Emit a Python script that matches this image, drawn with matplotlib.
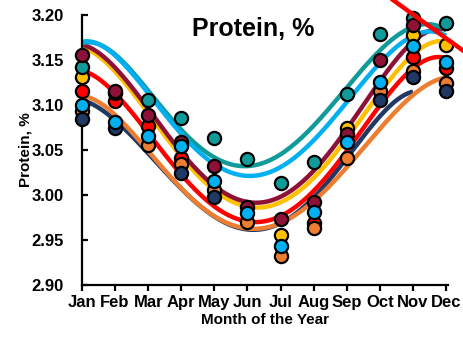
import matplotlib
matplotlib.use('Agg')
import matplotlib.pyplot as plt
from matplotlib.lines import Line2D
import numpy as np

plt.rcParams['font.family'] = ['Liberation Sans', 'DejaVu Sans']
plt.rcParams['font.weight'] = 'bold'

months = ['Jan', 'Feb', 'Mar', 'Apr', 'May', 'Jun',
          'Jul', 'Aug', 'Sep', 'Oct', 'Nov', 'Dec']
yticks = [2.90, 2.95, 3.00, 3.05, 3.10, 3.15, 3.20]
nan = np.nan

# observed monthly means (dots); nan where the dot is hidden in the source
teal_pts   = [3.142, 3.113, 3.106, 3.085, 3.063, 3.040, 3.013, 3.037, 3.112, 3.179, 3.197, 3.191]
maroon_pts = [3.156, 3.116, 3.089, 3.059, 3.032, 2.987, 2.973, 2.992, 3.068, 3.150, 3.189, nan]
gold_pts   = [3.131, nan,   nan,   nan,   nan,   nan,   2.956, nan,   3.074, nan,   3.178, 3.167]
red_pts    = [3.116, 3.104, 3.077, 3.041, nan,   nan,   nan,   2.969, nan,   nan,   3.153, 3.141]
sky_pts    = [3.100, 3.081, 3.065, 3.054, 3.016, 2.980, 2.943, 2.981, 3.059, 3.125, 3.165, 3.148]
orange_pts = [3.093, nan,   3.056, 3.034, 3.005, 2.970, 2.932, 2.963, 3.041, 3.115, 3.138, 3.124]
navy_pts   = [3.084, 3.074, nan,   3.024, 2.998, nan,   nan,   nan,   nan,   3.106, 3.131, 3.116]

# trend curves read at each month
teal_fit   = [3.170, 3.151, 3.118, 3.077, 3.041, 3.029, 3.043, 3.078, 3.122, 3.163, 3.182, 3.185]
sky_fit    = [3.172, 3.150, 3.115, 3.072, 3.035, 3.017, 3.028, 3.063, 3.107, 3.146, 3.174, 3.178]
maroon_fit = [3.168, 3.139, 3.096, 3.050, 3.013, 2.987, 2.996, 3.030, 3.076, 3.124, 3.170, 3.184]
gold_fit   = [3.165, 3.135, 3.091, 3.045, 3.006, 2.984, 2.991, 3.020, 3.065, 3.113, 3.155, 3.171]
red_fit    = [3.139, 3.111, 3.070, 3.024, 2.987, 2.969, 2.976, 3.006, 3.050, 3.098, 3.141, 3.152]
orange_fit = [3.111, 3.087, 3.050, 3.009, 2.976, 2.961, 2.969, 2.994, 3.031, 3.074, 3.110, 3.131]
navy_fit   = [3.106, 3.082, 3.047, 3.008, 2.975, 2.961, 2.969, 2.998, 3.041, 3.087, 3.115]

c_teal, c_sky, c_maroon = '#119a9a', '#00b0f0', '#8e1238'
c_gold, c_red, c_orange, c_navy = '#ffc000', '#ff0000', '#ed7d31', '#203864'

fig = plt.figure(figsize=(4.64, 3.44), dpi=100)
ax = fig.add_axes([0.1767, 0.1715, 0.789, 0.785])

x = np.arange(1, 13)

def trend(vals, col):
    xs = np.arange(1, len(vals) + 1)
    p = np.polyfit(xs, vals, 5)
    xx = np.linspace(1, len(vals), 200)
    ax.plot(xx, np.polyval(p, xx), color=col, lw=3.2, solid_capstyle='butt', zorder=2)

# lines, back to front
trend(navy_fit, c_navy)
trend(orange_fit, c_orange)
trend(red_fit, c_red)
trend(gold_fit, c_gold)
trend(maroon_fit, c_maroon)
trend(teal_fit, c_teal)
trend(sky_fit, c_sky)

for vals, col in [(gold_pts, c_gold), (red_pts, c_red), (orange_pts, c_orange),
                  (teal_pts, c_teal), (maroon_pts, c_maroon), (navy_pts, c_navy),
                  (sky_pts, c_sky)]:
    ax.plot(x, vals, 'o', color=col, mec='black', mew=1.6, ms=9.5,
            zorder=3, clip_on=False)

ax.set_xlim(1, 12.06)
ax.set_ylim(2.90, 3.20)
ax.set_xticks(x)
ax.set_xticklabels(months)
ax.set_yticks(yticks)
ax.set_yticklabels(['%.2f' % v for v in yticks])
for s in ['top', 'right']:
    ax.spines[s].set_visible(False)
for s in ['left', 'bottom']:
    ax.spines[s].set_linewidth(1.6)
ax.tick_params(axis='x', direction='out', length=4, width=1.6, pad=3, labelsize=12)
ax.tick_params(axis='y', direction='in', length=4, width=1.6, pad=13, labelsize=12)
for lab in ax.get_xticklabels() + ax.get_yticklabels():
    lab.set_fontweight('bold')

ax.set_xlabel('Month of the Year', fontsize=11, fontweight='bold', labelpad=2)
ax.set_ylabel('Protein, %', fontsize=11, fontweight='bold', labelpad=-1)

fig.text(0.546, 0.916, 'Protein, %', fontsize=18, fontweight='bold',
         ha='center', va='center')

# red slash in the top right corner
fig.add_artist(Line2D([393 / 464, 1.02], [1.0, 1 - 58 / 344], color='red', lw=3.2,
                      transform=fig.transFigure))

fig.savefig('out.png', dpi=100)
